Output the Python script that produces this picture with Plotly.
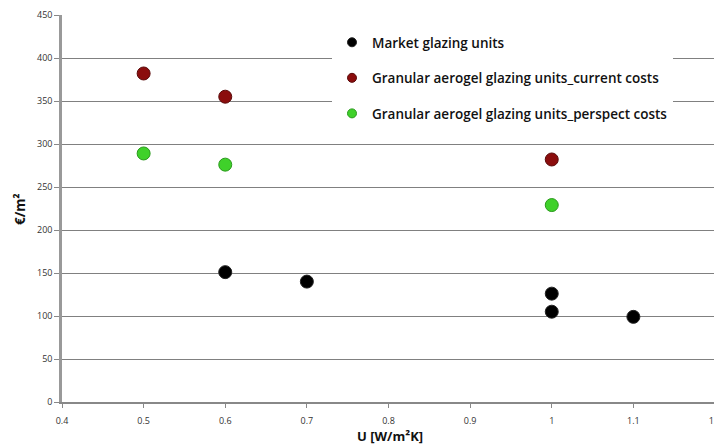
import plotly.graph_objects as go

market_u = [0.6, 0.7, 1.0, 1.0, 1.1]
market_cost = [151, 140, 126, 105, 99]
current_u = [0.5, 0.6, 1.0]
current_cost = [382, 355, 282]
perspect_u = [0.5, 0.6, 1.0]
perspect_cost = [289, 276, 229]
x_ticks = [0.4, 0.5, 0.6, 0.7, 0.8, 0.9, 1.0, 1.1, 1.2]
x_labels = ["0.4", "0.5", "0.6", "0.7", "0.8", "0.9", "1", "1.1", "1.2"]

names = ["Market glazing units",
         "Granular aerogel glazing units_current costs",
         "Granular aerogel glazing units_perspect costs"]
colors = ["#000000", "#8b0d0d", "#3fd12a"]
lines = ["#222222", "#5a0a0a", "#2a9a1c"]

fig = go.Figure()
series = [(market_u, market_cost), (current_u, current_cost), (perspect_u, perspect_cost)]
for i, (xs, ys) in enumerate(series):
    fig.add_trace(go.Scatter(x=xs, y=ys, mode="markers", name=names[i], showlegend=False,
                             marker=dict(size=13, color=colors[i], line=dict(color=lines[i], width=1))))
for i in range(3):
    fig.add_trace(go.Scatter(x=[None], y=[None], mode="markers", name=names[i], legendgroup=f"g{i}",
                             marker=dict(size=9, color=colors[i], line=dict(color=lines[i], width=1))))

OFF = 8  # page body margin
W, H = 722 - OFF, 447 - OFF
# desired plot area in page pixels: x 62..715, y 15..402
L, R, T, B = 62 - OFF, 722 - 715, 15 - OFF, 447 - 402
pw = W - L - R
ph = H - T - B


def px(xp):
    return (xp - 62) / pw


def py(yp):
    return (402 - yp) / ph


fig.update_layout(
    width=W, height=H,
    margin=dict(l=L, r=R, t=T, b=B, autoexpand=False),
    paper_bgcolor="white", plot_bgcolor="white",
    font=dict(family="Open Sans, sans-serif", color="#222"),
    showlegend=True,
    legend=dict(x=px(332), y=py(27), xanchor="left", yanchor="top", bgcolor="white",
                font=dict(size=13.5, family="Open Sans, sans-serif", color="#111", weight=600),
                tracegroupgap=15, itemwidth=30),
    xaxis=dict(range=[0.4, 1.2], tickvals=x_ticks, ticktext=x_labels, showgrid=False, zeroline=False,
               showline=True, linecolor="#888", linewidth=1.5, ticks="outside", ticklen=4,
               tickcolor="#888", tickfont=dict(size=9, color="#333"), automargin=False,
               ticklabelstandoff=5),
    yaxis=dict(range=[0, 450], dtick=50, showgrid=True, gridcolor="#808080", gridwidth=1.4,
               zeroline=False, showline=True, linecolor="#999", linewidth=2.5, ticks="outside",
               ticklen=5, tickcolor="#888", tickfont=dict(size=9, color="#333"), automargin=False),
)
fig.add_annotation(text="<b>U [W/m²K]</b>", xref="paper", yref="paper",
                   x=px(390), y=py(436), xanchor="center", yanchor="middle", showarrow=False,
                   font=dict(size=13, color="#111"))
fig.add_annotation(text="<b>€/m²</b>", xref="paper", yref="paper",
                   x=px(20), y=py(209), xanchor="center", yanchor="middle", showarrow=False,
                   textangle=-90, font=dict(size=13.5, color="#111"))
fig.add_shape(type="line", xref="paper", yref="paper", x0=1, x1=1, y0=0, y1=0.07,
              line=dict(color="#888", width=1.5))
fig.write_html("out.html")
